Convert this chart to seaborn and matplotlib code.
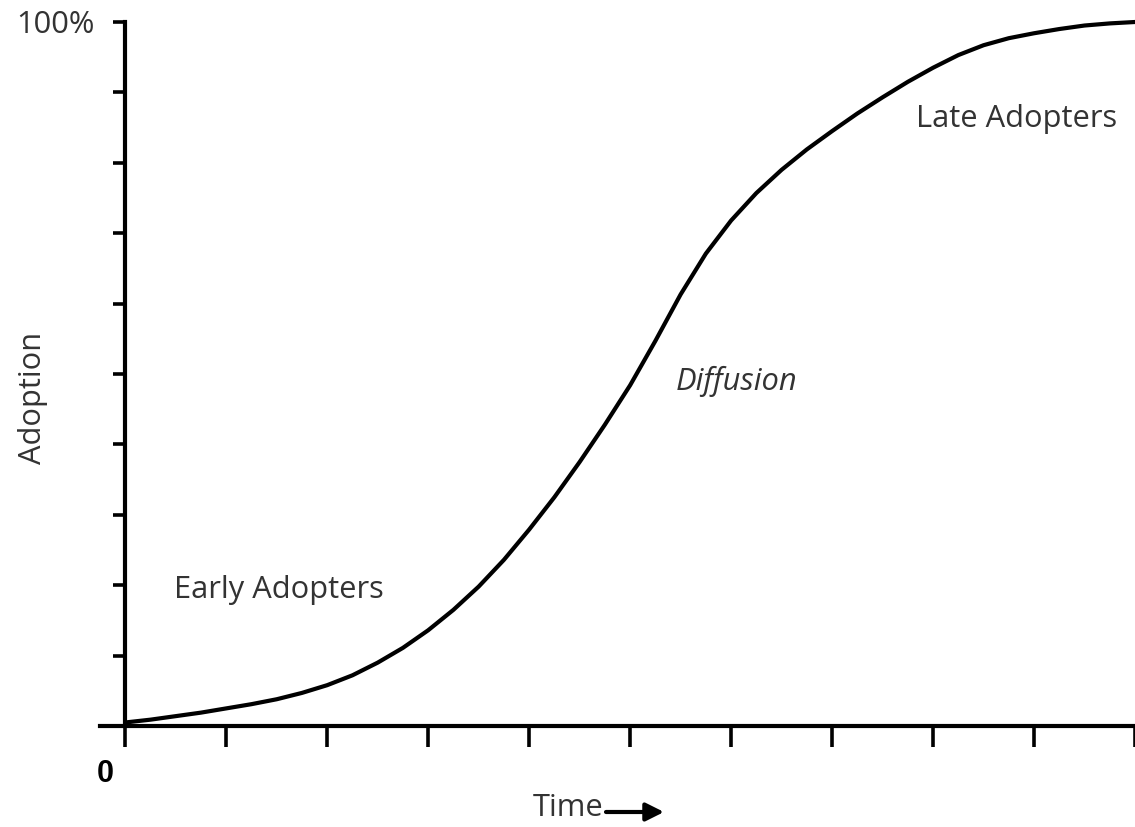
import numpy as np
import pandas as pd
import matplotlib
matplotlib.use("Agg")
import matplotlib.pyplot as plt
import seaborn as sns

# Adoption share (%) over time, sampled every quarter period
time = [0.00, 0.25, 0.50, 0.75, 1.00, 1.25, 1.50, 1.75, 2.00, 2.25,
        2.50, 2.75, 3.00, 3.25, 3.50, 3.75, 4.00, 4.25, 4.50, 4.75,
        5.00, 5.25, 5.50, 5.75, 6.00, 6.25, 6.50, 6.75, 7.00, 7.25,
        7.50, 7.75, 8.00, 8.25, 8.50, 8.75, 9.00, 9.25, 9.50, 9.75,
        10.00]
adoption = [0.5, 0.9, 1.4, 1.9, 2.5, 3.1, 3.8, 4.7, 5.8, 7.2,
            9.0, 11.1, 13.6, 16.5, 19.8, 23.6, 27.9, 32.5, 37.5, 42.8,
            48.4, 54.7, 61.3, 67.1, 71.8, 75.7, 79.0, 81.9, 84.5, 87.0,
            89.3, 91.5, 93.5, 95.3, 96.7, 97.7, 98.4, 99.0, 99.5, 99.8,
            100.0]

x_ticks = list(range(0, 11))
y_ticks = list(range(0, 101, 10))

phase_labels = ["Early Adopters", "Diffusion", "Late Adopters"]

sns.set_theme(style="white")
plt.rcParams["font.family"] = ["Open Sans", "DejaVu Sans"]

W, H = 1135, 827
fig = plt.figure(figsize=(W / 100, H / 100), dpi=100)
ax = fig.add_axes([100 / W, 101 / H, 1035 / W, 704 / H])

df = pd.DataFrame({"Time": time, "Adoption": adoption})
sns.lineplot(data=df, x="Time", y="Adoption", color="black", linewidth=3.0,
             ax=ax, clip_on=False, solid_capstyle="round",
             solid_joinstyle="round")

ax.set_xlim(-0.25, 10)
ax.set_ylim(0, 100)

for s in ["top", "right"]:
    ax.spines[s].set_visible(False)
ax.spines["left"].set_position(("data", 0))
for s in ["left", "bottom"]:
    ax.spines[s].set_color("black")
    ax.spines[s].set_linewidth(3.0)

ax.set_xticks(x_ticks)
ax.set_yticks(y_ticks)
ax.set_xticklabels([])
ax.set_yticklabels([])
ax.tick_params(axis="x", direction="out", length=15, width=2.6, color="black",
               bottom=True)
ax.tick_params(axis="y", direction="out", length=9, width=2.6, color="black",
               left=True)

ax.set_xlabel("")
ax.set_ylabel("")

txt = "#333333"
fs = 22.2
ax.text(-0.3, 99.6, "100%", ha="right", va="center", fontsize=fs, color=txt,
        clip_on=False)
ax.text(-0.2, -6.8, "0", ha="center", va="center", fontsize=22,
        fontweight="bold", color="black", family="Liberation Sans",
        clip_on=False)

ax.text(0.485, 19.3, phase_labels[0], ha="left", va="center", fontsize=fs,
        color=txt)
ax.text(5.455, 49.0, phase_labels[1], ha="left", va="center", fontsize=fs,
        color=txt, style="italic")
ax.text(7.83, 86.2, phase_labels[2], ha="left", va="center", fontsize=fs,
        color=txt)

fig.text(33 / W, 1 - 398 / H, "Adoption", rotation=90, ha="center",
         va="center", fontsize=fs, color=txt)
fig.text(568 / W, 1 - 808 / H, "Time", ha="center", va="center",
         fontsize=fs, color=txt)
ax.annotate("", xy=(664, H - 812), xytext=(606, H - 812),
            xycoords="figure pixels", textcoords="figure pixels",
            arrowprops=dict(arrowstyle="-|>,head_length=0.9,head_width=0.45",
                            color="black", lw=3.0, shrinkA=0, shrinkB=0))

fig.savefig("out.png", dpi=100, facecolor="white")
